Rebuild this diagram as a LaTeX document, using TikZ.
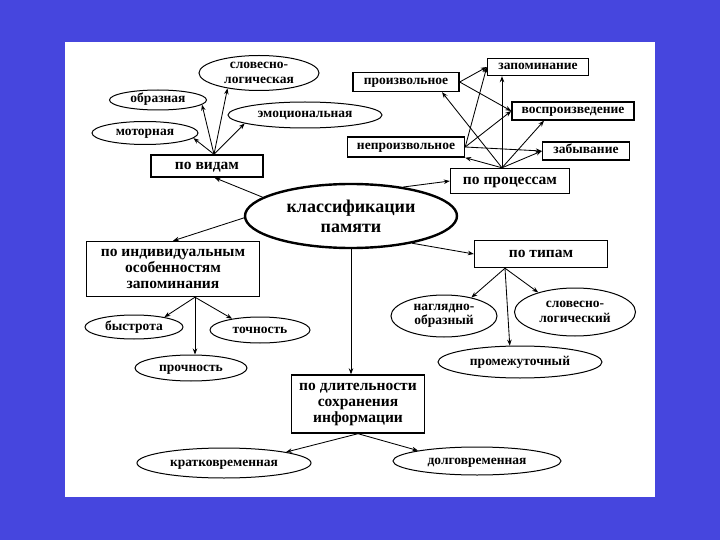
\documentclass[tikz,border=0pt]{standalone}
\usepackage{fontspec}
\setmainfont{Liberation Serif}
\usetikzlibrary{shapes.geometric,arrows.meta,calc}
\definecolor{bgblue}{RGB}{70,70,222}
\begin{document}
\begin{tikzpicture}[x=1pt,y=-1pt,
  fnt/.style={font=\fontsize{13.5}{14.5}\selectfont\bfseries, inner sep=0pt},
  lbl/.style={fnt, text height=9.3pt, text depth=3.3pt},
  lbl2/.style={fnt, align=center},
  ell/.style={draw, ellipse, line width=1pt, inner sep=0pt},
  box/.style={draw, rectangle, line width=1.4pt, inner sep=0pt, lbl},
  bigbox/.style={box, font=\fontsize{15.5}{16}\selectfont\bfseries, text height=10.7pt, text depth=3.8pt},
  mbox/.style={draw, rectangle, line width=1.4pt, inner sep=0pt, font=\fontsize{15.5}{16}\selectfont\bfseries, align=center},
  arr/.style={-{Stealth[length=6pt,width=4.5pt]}, line width=0.85pt}]
\fill[bgblue] (0,0) rectangle (720,540);
\fill[white] (65,42) rectangle (655,497);
\useasboundingbox (0,0) rectangle (720,540);

% --- po vidam group
\node[ell, minimum width=120pt, minimum height=35pt, label={[lbl2]center:словесно-\\логическая}] (slog) at (259,73) {};
\node[ell, minimum width=97pt, minimum height=20pt, label={[lbl]center:образная}] (obr) at (158,100) {};
\node[ell, minimum width=106pt, minimum height=23pt, label={[lbl]center:моторная}] (mot) at (145,133) {};
\node[ell, minimum width=154pt, minimum height=26pt, label={[lbl]center:эмоциональная}] (emo) at (305,115) {};
\node[bigbox, minimum width=112pt, minimum height=22pt] (pv) at (207,166) {по видам};

% --- po processam group
\node[box, minimum width=101pt, minimum height=17pt] (zap) at (538,67) {запоминание};
\node[box, minimum width=106pt, minimum height=19pt] (proizv) at (406,82) {произвольное};
\node[box, minimum width=122pt, minimum height=18pt] (vosp) at (573,111) {воспроизведение};
\node[box, minimum width=117pt, minimum height=20pt] (neproizv) at (406,147) {непроизвольное};
\node[box, minimum width=87pt, minimum height=18pt] (zab) at (586,151) {забывание};
\node[bigbox, minimum width=119pt, minimum height=25pt] (pp) at (510,181) {по процессам};

% --- main
\node[ell, line width=2.4pt, minimum width=212pt, minimum height=64pt,
  label={[font=\fontsize{18}{20}\selectfont\bfseries, align=center]center:классификации\\памяти}] (main) at (351,216) {};

% --- individual
\node[mbox, minimum width=173pt, minimum height=55pt] (pind) at (173,269) {по индивидуальным\\особенностям\\запоминания};
\node[ell, minimum width=98pt, minimum height=24pt, label={[lbl]center:быстрота}] (bys) at (134,327) {};
\node[ell, minimum width=100pt, minimum height=26pt, label={[lbl]center:точность}] (toch) at (260,330) {};
\node[ell, minimum width=112pt, minimum height=26pt, label={[lbl]center:прочность}] (proch) at (191,368) {};

% --- types
\node[bigbox, minimum width=133pt, minimum height=27pt] (pt) at (541,254) {по типам};
\node[ell, minimum width=106pt, minimum height=42pt, label={[lbl2]center:наглядно-\\образный}] (nag) at (444,316) {};
\node[ell, minimum width=121pt, minimum height=48pt, label={[lbl2]center:словесно-\\логический}] (slogt) at (575,312) {};
\node[ell, minimum width=164pt, minimum height=32pt, label={[lbl]center:промежуточный}] (prom) at (520,362) {};

% --- duration
\node[mbox, minimum width=133pt, minimum height=58pt] (pdl) at (358,404) {по длительности\\сохранения\\информации};
\node[ell, minimum width=174pt, minimum height=30pt, label={[lbl]center:кратковременная}] (krat) at (224,463) {};
\node[ell, minimum width=168pt, minimum height=28pt, label={[lbl]center:долговременная}] (dolg) at (477,461) {};

% --- fan sources
\coordinate (pvT) at ($(pv.north)+(7,0)$);
\coordinate (ppT) at ($(pp.north)+(-8,0)$);
\coordinate (pindB) at ($(pind.south)+(22,0)$);
\coordinate (ptB) at ($(pt.south)+(-36,0)$);

% --- connectors
\draw[arr] (pvT) -- (mot.-6);
\draw[arr] (pvT) -- (obr.-6);
\draw[arr] (pvT) -- (slog.-154);
\draw[arr] (pvT) -- (emo.188);
\draw[arr] (main.168) -- (pv.-57.5);

\draw[arr] (main.29) -- (pp.west);
\draw[arr] (ppT) -- ($(zap.south)+(-36,0)$);
\draw[arr] (ppT) -- ($(proizv.south)+(36,0)$);
\draw[arr] (ppT) -- ($(vosp.south)+(-29,0)$);
\draw[arr] (ppT) -- (zab.west);
\draw[arr] (ppT) -- (neproizv.south east);
\draw[arr] (proizv.east) -- (zap.west);
\draw[arr] (proizv.east) -- (vosp.west);
\draw[arr] (neproizv.east) -- (zap.west);
\draw[arr] (neproizv.east) -- (vosp.west);
\draw[arr] (neproizv.east) -- (zab.west);

\draw[arr] (main.181) -- (pind.north);
\draw[arr] (pindB) -- (bys.18);
\draw[arr] (pindB) -- (toch.158);
\draw[arr] (pindB) -- (pindB |- proch.north);

\draw[arr] (main.-24.6) -- (pt.west);
\draw[arr] (ptB) -- (nag.34);
\draw[arr] (ptB) -- (slogt.152);
\draw[arr] (ptB) -- (prom.122);

\draw[arr] (main.south) -- (main.south |- pdl.north);
\draw[arr] (pdl.south) -- (krat.10);
\draw[arr] (pdl.south) -- (dolg.170);
\end{tikzpicture}
\end{document}
